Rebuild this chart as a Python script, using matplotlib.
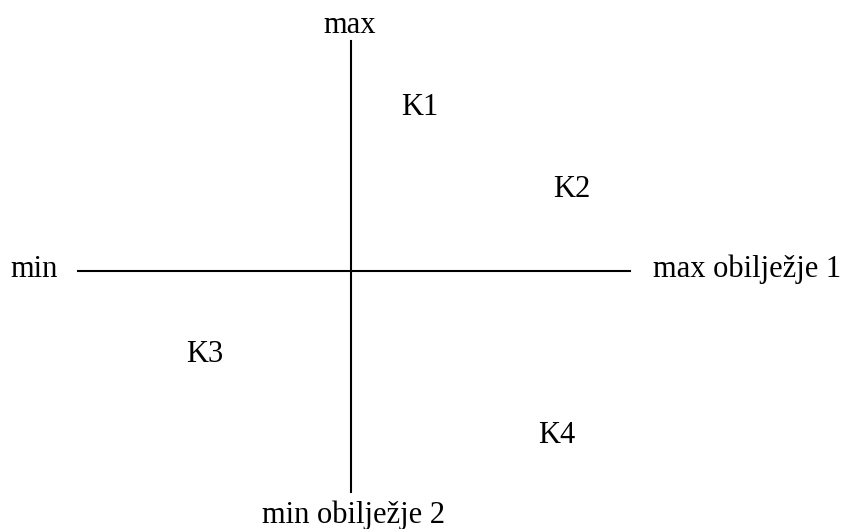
import matplotlib.pyplot as plt

# Osi (u pikselima slike)
x_axis = [78, 630]
axis_y = 271
y_axis_x = 351
y_axis = [41, 492]

# Oznake krajeva osi
end_labels = ["max", "min", "max obilježje 1", "min obilježje 2"]

# Klasteri
clusters = ["K1", "K2", "K3", "K4"]
cluster_x = [420, 572, 205, 557]
cluster_y = [115, 197, 362, 443]

plt.rcParams['font.family'] = ['Liberation Serif', 'DejaVu Serif']

fig = plt.figure(figsize=(8.47, 5.29), dpi=100)
ax = fig.add_axes([0, 0, 1, 1])
ax.set_xlim(0, 847)
ax.set_ylim(529, 0)
ax.axis('off')

ax.plot(x_axis, [axis_y, axis_y], color='black', lw=1.5)
ax.plot([y_axis_x, y_axis_x], y_axis, color='black', lw=1.5)

fs = 22
ax.text(350, 33, end_labels[0], ha='center', va='baseline', fontsize=fs)
ax.text(10, 277, end_labels[1], ha='left', va='baseline', fontsize=fs)
ax.text(653, 277, end_labels[2], ha='left', va='baseline', fontsize=fs)
ax.text(353, 523, end_labels[3], ha='center', va='baseline', fontsize=fs)

for name, cx, cy in zip(clusters, cluster_x, cluster_y):
    ax.text(cx, cy, name, ha='center', va='baseline', fontsize=fs)

plt.savefig("out.png", dpi=100)
